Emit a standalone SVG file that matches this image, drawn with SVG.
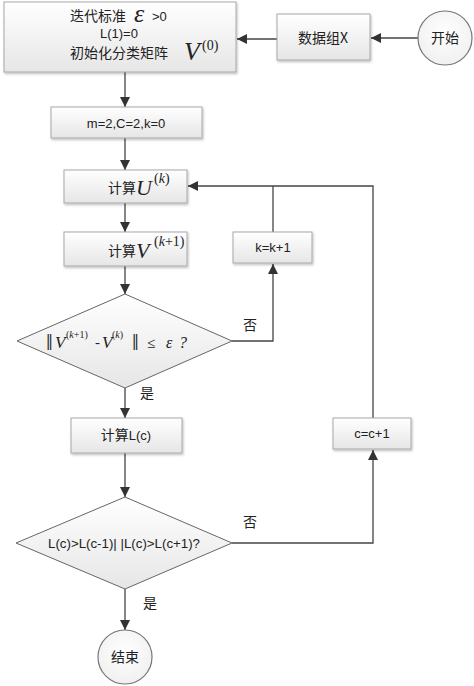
<svg xmlns="http://www.w3.org/2000/svg" width="474" height="686" viewBox="0 0 474 686">
<defs>
<linearGradient id="g" x1="0" y1="0" x2="0" y2="1">
<stop offset="0" stop-color="#ffffff"/>
<stop offset="1" stop-color="#e6e6e6"/>
</linearGradient>
<radialGradient id="cg" cx="0.5" cy="0.4" r="0.6">
<stop offset="0" stop-color="#ffffff"/>
<stop offset="1" stop-color="#f0f0f0"/>
</radialGradient>
<marker id="arr" viewBox="0 0 10 10" refX="10" refY="5" markerWidth="10" markerHeight="10" markerUnits="userSpaceOnUse" orient="auto">
<path d="M0,0 L10,5 L0,10 Z" fill="#333"/>
</marker>
<filter id="sh" x="-10%" y="-10%" width="120%" height="130%">
<feDropShadow dx="1" dy="1.5" stdDeviation="1" flood-color="#000" flood-opacity="0.25"/>
</filter>
</defs>
<style>
.box{fill:url(#g);stroke:#a8a8a8;stroke-width:1;filter:url(#sh)}
.circ{fill:url(#cg);stroke:#777;stroke-width:1.2}
.dia{fill:url(#g);stroke:#666;stroke-width:1}
.ln{fill:none;stroke:#444;stroke-width:1.3}
.cn{font-family:"Noto Sans CJK SC",sans-serif;font-size:14px;fill:#222}
.sn{font-family:"Liberation Sans","Noto Sans CJK SC",sans-serif;font-size:13px;fill:#222}
.mi{font-family:"Liberation Serif",serif;font-style:italic;fill:#222}
.mr{font-family:"Liberation Serif",serif;fill:#222}
</style>

<g id="connectors">
<line class="ln" x1="418" y1="38" x2="371" y2="38" marker-end="url(#arr)"/>
<line class="ln" x1="277" y1="39" x2="237" y2="39" marker-end="url(#arr)"/>
<line class="ln" x1="125" y1="72" x2="125" y2="107" marker-end="url(#arr)"/>
<line class="ln" x1="125" y1="138" x2="125" y2="170" marker-end="url(#arr)"/>
<line class="ln" x1="125" y1="203" x2="125" y2="232" marker-end="url(#arr)"/>
<line class="ln" x1="125" y1="266" x2="125" y2="294" marker-end="url(#arr)"/>
<polyline class="ln" points="232,341 273,341 273,264" marker-end="url(#arr)"/>
<line class="ln" x1="273" y1="232" x2="273" y2="186"/>
<polyline class="ln" points="373,418 373,186 188,186" marker-end="url(#arr)"/>
<line class="ln" x1="125" y1="388" x2="125" y2="418" marker-end="url(#arr)"/>
<line class="ln" x1="125" y1="453" x2="125" y2="497" marker-end="url(#arr)"/>
<polyline class="ln" points="232,543 373,543 373,450" marker-end="url(#arr)"/>
<line class="ln" x1="125" y1="589" x2="125" y2="630" marker-end="url(#arr)"/>
<text class="cn" x="243" y="330" font-size="13">否</text>
<text class="cn" x="243" y="527" font-size="13">否</text>
<text class="cn" x="140" y="398" font-size="13">是</text>
<text class="cn" x="143" y="608" font-size="13">是</text>
</g>

<g id="start">
<circle class="circ" cx="445" cy="38" r="27"/>
<text class="cn" x="445" y="43" text-anchor="middle">开始</text>
</g>

<g id="data">
<rect class="box" x="277" y="14" width="93" height="46"/>
<text class="cn" x="323" y="43" text-anchor="middle">数据组X</text>
</g>

<g id="init">
<rect class="box" x="4" y="2" width="232" height="70"/>
<text class="cn" x="70" y="21" font-size="15">迭代标准</text>
<text class="mi" x="134" y="22" font-size="26">ε</text>
<text class="sn" x="152" y="21" font-size="13">&gt;0</text>
<text class="sn" x="100" y="38" font-size="12">L(1)=0</text>
<text class="cn" x="70" y="58" font-size="15">初始化分类矩阵</text>
<text class="mi" x="184" y="60" font-size="26">V</text>
<text class="mr" x="202" y="50" font-size="14">(0)</text>
</g>

<g id="setparams">
<rect class="box" x="51" y="107" width="151" height="31"/>
<text class="sn" x="126" y="128" text-anchor="middle">m=2,C=2,k=0</text>
</g>

<g id="calcU">
<rect class="box" x="64" y="170" width="123" height="33"/>
<text class="cn" x="108" y="193">计算</text>
<text class="mi" x="136" y="195" font-size="22">U</text>
<text class="mi" x="154" y="183" font-size="14"><tspan font-style="normal">(</tspan>k<tspan font-style="normal">)</tspan></text>
</g>

<g id="calcV">
<rect class="box" x="64" y="232" width="123" height="34"/>
<text class="cn" x="108" y="256">计算</text>
<text class="mi" x="136" y="258" font-size="22">V</text>
<text class="mi" x="154" y="246" font-size="14"><tspan font-style="normal">(</tspan>k<tspan font-style="normal">+1)</tspan></text>
</g>

<g id="kinc">
<rect class="box" x="233" y="232" width="79" height="31"/>
<text class="sn" x="273" y="252" text-anchor="middle">k=k+1</text>
</g>

<g id="cond1">
<polygon class="dia" points="125,294 232,341 125,388 17,341"/>
<text class="mr" x="46" y="350" font-size="24">‖</text>
<text class="mi" x="55" y="348" font-size="17">V</text>
<text class="mr" x="66" y="338" font-size="10">(<tspan font-style="italic">k</tspan>+1)</text>
<text class="mr" x="95" y="347" font-size="15">-</text>
<text class="mi" x="102" y="348" font-size="17">V</text>
<text class="mr" x="112" y="338" font-size="10">(<tspan font-style="italic">k</tspan>)</text>
<text class="mr" x="132" y="350" font-size="24">‖</text>
<text class="mr" x="147" y="348" font-size="15">≤</text>
<text class="mi" x="166" y="348" font-size="16">ε</text>
<text class="mi" x="179" y="348" font-size="16">?</text>
</g>

<g id="calcL">
<rect class="box" x="71" y="418" width="111" height="35"/>
<text class="cn" x="126" y="440" text-anchor="middle">计算<tspan class="sn" font-size="14">L(c)</tspan></text>
</g>

<g id="cinc">
<rect class="box" x="333" y="418" width="78" height="31"/>
<text class="sn" x="372" y="438" text-anchor="middle">c=c+1</text>
</g>

<g id="cond2">
<polygon class="dia" points="125,497 232,543 125,589 16,543"/>
<text class="sn" x="124" y="548" text-anchor="middle" textLength="152" lengthAdjust="spacingAndGlyphs">L(c)&gt;L(c-1)| |L(c)&gt;L(c+1)?</text>
</g>

<g id="end">
<circle class="circ" cx="125" cy="657" r="27"/>
<text class="cn" x="125" y="662" text-anchor="middle">结束</text>
</g>
</svg>
